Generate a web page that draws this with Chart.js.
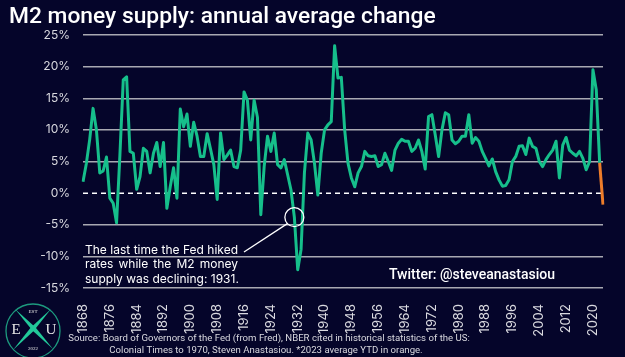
<!DOCTYPE html>
<html><head><meta charset="utf-8">
<style>html,body{margin:0;padding:0;background:#05052a;}#wrap{width:625px;height:357px;position:relative;}</style>
<script src="https://cdn.jsdelivr.net/npm/chart.js@4.4.0/dist/chart.umd.min.js"></script>
</head><body><div id="wrap"><canvas id="c"></canvas></div>
<script>
const firstYear = 1868;
const lastYear = 2023;
const years = [];
for (let y = firstYear; y <= lastYear; y++) years.push(String(y));

// Annual average % change in M2
const m2Change = [
  1.8, 4.7, 8.5, 13.4, 10, 3.2, 3.5, 5.7, -0.8, -1.6,      // 1868-1877
  -4.7, 6, 17.9, 18.4, 6.6, 6.3, 0.6, 2.6, 7.1, 6.6,       // 1878-1887
  3.2, 6.3, 8, 4.2, 8, -2.4, 1, 4, -0.8, 13.3,             // 1888-1897
  10.5, 12.5, 7.4, 11.2, 9, 5.8, 5.8, 9.4, 7, 4.5,         // 1898-1907
  -1, 9.5, 5.3, 6, 6.8, 4.2, 4, 6.8, 16, 14.7,             // 1908-1917
  8.4, 14.7, 12, -3.4, 4.2, 9, 6.6, 9.5, 4.5, 4,           // 1918-1927
  5.3, 2.9, 0.5, -3.8, -12.1, -8.9, 3.2, 9.5, 8.4, 4.7,    // 1928-1937
  -0.3, 6.3, 10, 10.8, 11.3, 23.3, 18.2, 18.3, 10, 4.7,    // 1938-1947
  2.4, 1, 3.2, 4.2, 6.6, 5.9, 5.8, 5.9, 4.2, 4.5,          // 1948-1957
  6.3, 5, 3.6, 6.8, 7.9, 8.5, 8.2, 8.2, 6.6, 7.1,          // 1958-1967
  8.4, 6.6, 3.8, 12.1, 12.4, 9.2, 5.8, 10, 12.7, 12.4,     // 1968-1977
  8.4, 7.8, 8.2, 9, 9, 12.4, 7.9, 8.8, 8.2, 6.6,           // 1978-1987
  5.5, 4.3, 5.4, 3.4, 2.1, 1.1, 1.2, 2.1, 5, 5.8,          // 1988-1997
  7.4, 7.5, 6.1, 8.7, 7.4, 7.1, 5, 4.2, 5.3, 6.1,          // 1998-2007
  6.8, 8.2, 2.4, 7.6, 8.8, 6.8, 6.3, 5.9, 6.6, 5.5,        // 2008-2017
  3.7, 5, 19.5, 16.3, 4.8, -1.8                            // 2018-2023
];
const orangeFromYear = "2023";
const tickYears = ["1868","1876","1884","1892","1900","1908","1916","1924","1932","1940","1948","1956","1964","1972","1980","1988","1996","2004","2012","2020"];
const yTicks = [-15, -10, -5, 0, 5, 10, 15, 20, 25];
const annotYear = "1931";

const GREEN = '#16bf8b';
const ORANGE = '#ee7d2a';
const BG = '#05052a';
const TXT = '#d9d9df';

const orangeIdx = years.indexOf(orangeFromYear);

const deco = {
  id: 'deco',
  beforeDraw(chart) {
    const c = chart.ctx;
    c.save(); c.fillStyle = BG; c.fillRect(0, 0, chart.width, chart.height); c.restore();
  },
  beforeDatasetsDraw(chart) {
    const c = chart.ctx, a = chart.chartArea, ys = chart.scales.y;
    const y0 = ys.getPixelForValue(0);
    c.save();
    c.strokeStyle = '#ffffff'; c.lineWidth = 1.5; c.setLineDash([5, 4]);
    c.beginPath(); c.moveTo(a.left, y0); c.lineTo(a.right, y0); c.stroke();
    c.restore();
  },
  afterDraw(chart) {
    const c = chart.ctx, a = chart.chartArea, xs = chart.scales.x, ys = chart.scales.y;
    c.save();
    // title
    c.fillStyle = '#ffffff';
    c.font = '500 22.8px Roboto';
    c.textAlign = 'left'; c.textBaseline = 'alphabetic';
    c.fillText('M2 money supply: annual average change', 9, 23);

    // annotation circle + leader
    const idx = years.indexOf(annotYear);
    const cx = xs.getPixelForValue(idx), cy = ys.getPixelForValue(m2Change[idx]);
    c.strokeStyle = '#ffffff'; c.lineWidth = 1.3;
    c.beginPath(); c.arc(cx, cy, 9.5, 0, Math.PI * 2); c.stroke();
    c.beginPath(); c.moveTo(a.left + 161, ys.getPixelForValue(-9.3)); c.lineTo(cx - 7, cy + 6.5); c.stroke();

    // annotation text (justified)
    c.fillStyle = '#ffffff';
    c.font = '12px Inter';
    c.textBaseline = 'middle';
    const tx = a.left + 2, tw = 153;
    const lines = ['The last time the Fed hiked', 'rates while the M2 money', 'supply was declining: 1931.'];
    const ly = [ys.getPixelForValue(-9), ys.getPixelForValue(-11.3), ys.getPixelForValue(-13.6)];
    lines.forEach((ln, i) => {
      if (i === lines.length - 1) { c.fillText(ln, tx, ly[i]); return; }
      const words = ln.split(' ');
      const wsum = words.reduce((s, w) => s + c.measureText(w).width, 0);
      const gap = (tw - wsum) / (words.length - 1);
      let x = tx;
      words.forEach(w => { c.fillText(w, x, ly[i]); x += c.measureText(w).width + gap; });
    });

    // twitter
    c.font = '500 14px Roboto';
    c.textAlign = 'right';
    c.fillText('Twitter: @steveanastasiou', a.right - 48, ys.getPixelForValue(-13));

    // source
    c.fillStyle = TXT;
    c.font = '9.6px Roboto';
    c.textAlign = 'center';
    c.fillText('Source: Board of Governors of the Fed (from Fred), NBER cited in historical statistics of the US:', 269, 339);
    c.fillText('Colonial Times to 1970, Steven Anastasiou. *2023 average YTD in orange.', 266, 351);

    // logo
    const lx = 33, lyc = 331, r = 27;
    c.strokeStyle = '#1d9a7e'; c.lineWidth = 1.3;
    c.beginPath(); c.arc(lx, lyc, r, 0, Math.PI * 2); c.stroke();
    c.fillStyle = '#22c99a';
    const taper = (x1, y1, x2, y2, w) => {
      const mx = (x1 + x2) / 2, my = (y1 + y2) / 2;
      const dx = x2 - x1, dy = y2 - y1, L = Math.hypot(dx, dy);
      const nx = -dy / L * w, ny = dx / L * w;
      c.beginPath(); c.moveTo(x1, y1); c.lineTo(mx + nx, my + ny); c.lineTo(x2, y2); c.lineTo(mx - nx, my - ny); c.closePath(); c.fill();
    };
    taper(lx - 18, lyc - 22, lx + 20, lyc + 18, 2.2);
    taper(lx + 18, lyc - 22, lx - 20, lyc + 19, 2.2);
    c.fillStyle = '#e8e8e8';
    c.font = '15px "Liberation Serif"';
    c.textAlign = 'center'; c.textBaseline = 'middle';
    c.fillText('E', lx - 17, lyc - 1);
    c.fillText('U', lx + 18, lyc - 1);
    c.font = '5px "Liberation Serif"';
    c.fillText('EST', lx, lyc - 19);
    c.fillText('2022', lx, lyc + 18);
    c.restore();
  }
};

new Chart(document.getElementById('c'), {
  type: 'line',
  data: {
    labels: years,
    datasets: [{
      data: m2Change,
      borderColor: GREEN,
      borderWidth: 3,
      pointRadius: 0,
      tension: 0,
      borderJoinStyle: 'round',
      segment: { borderColor: ctx => ctx.p1DataIndex >= orangeIdx ? ORANGE : GREEN }
    }]
  },
  options: {
    responsive: true,
    maintainAspectRatio: false,
    animation: false,
    layout: { padding: { left: 10, top: 35, right: 22, bottom: 0 } },
    plugins: { legend: { display: false }, tooltip: { enabled: false } },
    scales: {
      x: {
        type: 'category',
        grid: { display: false },
        border: { display: false },
        ticks: {
          autoSkip: false, maxRotation: 90, minRotation: 90, padding: 8,
          color: TXT, font: { family: 'Inter', size: 13 },
          callback: (v, i) => tickYears.includes(years[i]) ? years[i] : null
        },
        afterFit: s => { s.height = 69; }
      },
      y: {
        min: yTicks[0], max: yTicks[yTicks.length - 1],
        afterBuildTicks: s => { s.ticks = yTicks.map(v => ({ value: v })); },
        ticks: { padding: 13, color: TXT, font: { family: 'Inter', size: 12 }, callback: v => v + '%' },
        grid: { color: ctx => ctx.tick && ctx.tick.value === 0 ? 'rgba(0,0,0,0)' : '#a9a9b2', lineWidth: 1.5, drawTicks: false },
        border: { display: false },
        afterFit: s => { s.width = 73; }
      }
    }
  },
  plugins: [deco]
});
</script></body></html>
